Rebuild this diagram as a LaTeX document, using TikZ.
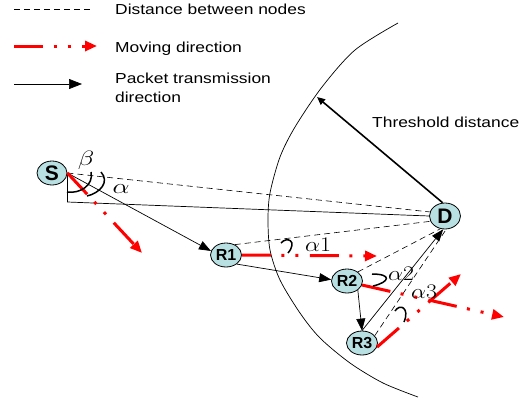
\documentclass[tikz,border=0pt]{standalone}
\usepackage[no-math]{fontspec}
\setmainfont{Liberation Sans}
\newfontfamily\legendfont[FakeStretch=1.2]{Liberation Sans}
\usetikzlibrary{arrows.meta,shapes.geometric}

\definecolor{nodefill}{RGB}{184,224,226}
\definecolor{movered}{RGB}{255,0,0}

\begin{document}
\begin{tikzpicture}[x=1pt,y=-1pt,
  station/.style={ellipse,draw=black,line width=0.8pt,fill=nodefill,inner sep=0pt,
    minimum width=31pt,minimum height=24pt,font=\fontsize{16}{16}\selectfont\bfseries},
  bignode/.style={station,font=\fontsize{21}{21}\selectfont\bfseries},
  gap/.style={dash pattern=on 6pt off 4pt,line width=0.6pt},
  packet/.style={-{Triangle[length=12pt,width=9pt]},line width=0.7pt},
  moving/.style={movered,line width=3pt,
    dash pattern=on 29pt off 10.5pt on 3pt off 11pt on 3pt off 11.5pt,
    -{Triangle[length=12pt,width=10pt]}},
  legendtext/.style={anchor=base west,inner sep=0pt,align=left,
    font=\legendfont\fontsize{14.5}{19}\selectfont},
  greek/.style={inner sep=0pt,font=\fontsize{20}{20}\selectfont},
  hook/.style={line width=1.5pt}
]
\useasboundingbox (0,0) rectangle (521,402);

% ---- legend ----
\coordinate (l1a) at (14,9);   \coordinate (l1b) at (90,9);
\coordinate (l2a) at (14,46);  \coordinate (l2b) at (97,46);
\coordinate (l3a) at (14,84);  \coordinate (l3b) at (82,84);
\draw[gap] (l1a) -- (l1b);
\draw[moving] (l2a) -- (l2b);
\draw[packet,-{Triangle[length=13pt,width=10pt]}] (l3a) -- (l3b);
\node[legendtext] (t1) at (115,14) {Distance between nodes};
\node[legendtext] (t2) at (115,52) {Moving direction};
\node[legendtext] (t3) at (115,102) {Packet transmission\\direction};

% ---- threshold boundary ----
\draw[line width=0.7pt] plot[smooth,tension=0.5] coordinates
  {(398,23) (355,50) (322,87) (295,127) (280,157) (270,193) (268,220)
   (270,250) (280,280) (300,313) (320,338) (350,363) (383,383) (418,397)};

% ---- nodes ----
\node[bignode,minimum width=30pt] (S) at (52,173) {S};
\node[bignode,minimum height=26pt] (D) at (445,216) {D};
\node[station] (R1) at (226,255) {R1};
\node[station] (R2) at (347,281) {R2};
\node[station] (R3) at (362,343) {R3};

\coordinate (th) at (317,97);
\draw[line width=1.6pt,-{Triangle[length=8pt,width=7pt]}] (D.100) -- (th);
\node[anchor=base west,inner sep=0pt,font=\legendfont\fontsize{14.5}{19}\selectfont]
  (thl) at (372,127) {Threshold distance};

% ---- distances ----
\draw[gap] (S.east) -- (D.165);
\draw[gap] (R1.50) -- (D.200);
\draw[gap] (R2.40) -- (D.250);
\draw[gap] (R3.30) -- (D.275);

% ---- reference lines at S ----
\coordinate (Sfoot) at ([yshift=-29pt]S.east);
\draw[line width=0.7pt] (S.east) -- (Sfoot) -- (D.west);

% ---- packet route ----
\draw[packet] (S.east) -- (R1.165);
\draw[packet] (R1.-40) -- (R2.175);
\draw[packet] (R2.-40) -- (R3.north);
\draw[packet] (R3.north) -- (D.262);

% ---- moving directions ----
\coordinate (mS) at (142,253);
\coordinate (m1) at (377,256);
\coordinate (m2) at (504,317);
\coordinate (m3) at (461,274);
\draw[moving] (S.east) -- (mS);
\draw[moving] (R1.east) -- (m1);
\draw[moving] (R2.-15) -- (m2);
\draw[moving] (R3.-15) -- (m3);

% ---- angle marks ----
\draw[hook] (67,192) .. controls (80,194) and (94,185) .. (91,172);
\draw[hook] (87,196) .. controls (100,193) and (110,182) .. (101,172);
\draw[hook] (281,243) .. controls (287,236) and (298,241) .. (288,253);
\draw[hook] (372,274) .. controls (392,274) and (390,282) .. (373,286);
\draw[hook] (395,311) .. controls (400,303) and (410,308) .. (404,322);

\node[greek] (beta) at (86,160) {\scalebox{1.3}[1]{$\beta$}};
\node[greek] (alpha) at (121,189) {\scalebox{1.3}[1]{$\alpha$}};
\node[greek] (a1) at (318,245) {\scalebox{1.15}[1]{$\alpha1$}};
\node[greek] (a2) at (401,274) {\scalebox{1.15}[1]{$\alpha2$}};
\node[greek] (a3) at (424,292) {\scalebox{1.15}[1]{$\alpha3$}};
\end{tikzpicture}
\end{document}
